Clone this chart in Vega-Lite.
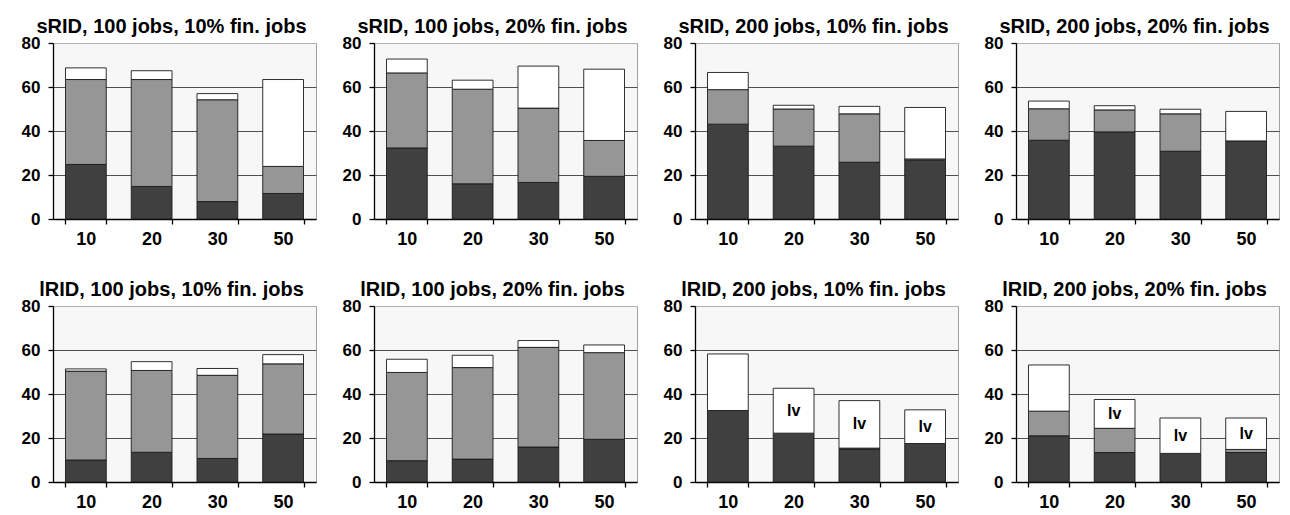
{
  "$schema": "https://vega.github.io/schema/vega-lite/v6.json",
  "background": "white",
  "padding": {"left": 20, "top": 16, "right": 2, "bottom": 2},
  "data": {"values": [
    {"panel": "sRID, 100 jobs, 10% fin. jobs", "x": 10, "part": "base", "value": 24.8},
    {"panel": "sRID, 100 jobs, 10% fin. jobs", "x": 10, "part": "mid", "value": 38.6},
    {"panel": "sRID, 100 jobs, 10% fin. jobs", "x": 10, "part": "top", "value": 5.3},
    {"panel": "sRID, 100 jobs, 10% fin. jobs", "x": 20, "part": "base", "value": 14.8},
    {"panel": "sRID, 100 jobs, 10% fin. jobs", "x": 20, "part": "mid", "value": 48.6},
    {"panel": "sRID, 100 jobs, 10% fin. jobs", "x": 20, "part": "top", "value": 4.0},
    {"panel": "sRID, 100 jobs, 10% fin. jobs", "x": 30, "part": "base", "value": 7.9},
    {"panel": "sRID, 100 jobs, 10% fin. jobs", "x": 30, "part": "mid", "value": 46.3},
    {"panel": "sRID, 100 jobs, 10% fin. jobs", "x": 30, "part": "top", "value": 2.8},
    {"panel": "sRID, 100 jobs, 10% fin. jobs", "x": 50, "part": "base", "value": 11.6},
    {"panel": "sRID, 100 jobs, 10% fin. jobs", "x": 50, "part": "mid", "value": 12.3},
    {"panel": "sRID, 100 jobs, 10% fin. jobs", "x": 50, "part": "top", "value": 39.5},

    {"panel": "sRID, 100 jobs, 20% fin. jobs", "x": 10, "part": "base", "value": 32.3},
    {"panel": "sRID, 100 jobs, 20% fin. jobs", "x": 10, "part": "mid", "value": 34.1},
    {"panel": "sRID, 100 jobs, 20% fin. jobs", "x": 10, "part": "top", "value": 6.3},
    {"panel": "sRID, 100 jobs, 20% fin. jobs", "x": 20, "part": "base", "value": 16.0},
    {"panel": "sRID, 100 jobs, 20% fin. jobs", "x": 20, "part": "mid", "value": 43.0},
    {"panel": "sRID, 100 jobs, 20% fin. jobs", "x": 20, "part": "top", "value": 4.1},
    {"panel": "sRID, 100 jobs, 20% fin. jobs", "x": 30, "part": "base", "value": 16.6},
    {"panel": "sRID, 100 jobs, 20% fin. jobs", "x": 30, "part": "mid", "value": 33.8},
    {"panel": "sRID, 100 jobs, 20% fin. jobs", "x": 30, "part": "top", "value": 19.1},
    {"panel": "sRID, 100 jobs, 20% fin. jobs", "x": 50, "part": "base", "value": 19.4},
    {"panel": "sRID, 100 jobs, 20% fin. jobs", "x": 50, "part": "mid", "value": 16.3},
    {"panel": "sRID, 100 jobs, 20% fin. jobs", "x": 50, "part": "top", "value": 32.4},

    {"panel": "sRID, 200 jobs, 10% fin. jobs", "x": 10, "part": "base", "value": 43.1},
    {"panel": "sRID, 200 jobs, 10% fin. jobs", "x": 10, "part": "mid", "value": 15.7},
    {"panel": "sRID, 200 jobs, 10% fin. jobs", "x": 10, "part": "top", "value": 7.8},
    {"panel": "sRID, 200 jobs, 10% fin. jobs", "x": 20, "part": "base", "value": 33.1},
    {"panel": "sRID, 200 jobs, 10% fin. jobs", "x": 20, "part": "mid", "value": 16.9},
    {"panel": "sRID, 200 jobs, 10% fin. jobs", "x": 20, "part": "top", "value": 1.7},
    {"panel": "sRID, 200 jobs, 10% fin. jobs", "x": 30, "part": "base", "value": 25.8},
    {"panel": "sRID, 200 jobs, 10% fin. jobs", "x": 30, "part": "mid", "value": 22.0},
    {"panel": "sRID, 200 jobs, 10% fin. jobs", "x": 30, "part": "top", "value": 3.4},
    {"panel": "sRID, 200 jobs, 10% fin. jobs", "x": 50, "part": "base", "value": 26.7},
    {"panel": "sRID, 200 jobs, 10% fin. jobs", "x": 50, "part": "mid", "value": 0.6},
    {"panel": "sRID, 200 jobs, 10% fin. jobs", "x": 50, "part": "top", "value": 23.4},

    {"panel": "sRID, 200 jobs, 20% fin. jobs", "x": 10, "part": "base", "value": 35.8},
    {"panel": "sRID, 200 jobs, 20% fin. jobs", "x": 10, "part": "mid", "value": 14.3},
    {"panel": "sRID, 200 jobs, 20% fin. jobs", "x": 10, "part": "top", "value": 3.5},
    {"panel": "sRID, 200 jobs, 20% fin. jobs", "x": 20, "part": "base", "value": 39.6},
    {"panel": "sRID, 200 jobs, 20% fin. jobs", "x": 20, "part": "mid", "value": 10.0},
    {"panel": "sRID, 200 jobs, 20% fin. jobs", "x": 20, "part": "top", "value": 1.9},
    {"panel": "sRID, 200 jobs, 20% fin. jobs", "x": 30, "part": "base", "value": 30.8},
    {"panel": "sRID, 200 jobs, 20% fin. jobs", "x": 30, "part": "mid", "value": 17.0},
    {"panel": "sRID, 200 jobs, 20% fin. jobs", "x": 30, "part": "top", "value": 2.1},
    {"panel": "sRID, 200 jobs, 20% fin. jobs", "x": 50, "part": "base", "value": 35.5},
    {"panel": "sRID, 200 jobs, 20% fin. jobs", "x": 50, "part": "top", "value": 13.4},

    {"panel": "lRID, 100 jobs, 10% fin. jobs", "x": 10, "part": "base", "value": 10.0},
    {"panel": "lRID, 100 jobs, 10% fin. jobs", "x": 10, "part": "mid", "value": 40.4},
    {"panel": "lRID, 100 jobs, 10% fin. jobs", "x": 10, "part": "top", "value": 1.0},
    {"panel": "lRID, 100 jobs, 10% fin. jobs", "x": 20, "part": "base", "value": 13.5},
    {"panel": "lRID, 100 jobs, 10% fin. jobs", "x": 20, "part": "mid", "value": 37.2},
    {"panel": "lRID, 100 jobs, 10% fin. jobs", "x": 20, "part": "top", "value": 4.0},
    {"panel": "lRID, 100 jobs, 10% fin. jobs", "x": 30, "part": "base", "value": 10.7},
    {"panel": "lRID, 100 jobs, 10% fin. jobs", "x": 30, "part": "mid", "value": 37.8},
    {"panel": "lRID, 100 jobs, 10% fin. jobs", "x": 30, "part": "top", "value": 3.1},
    {"panel": "lRID, 100 jobs, 10% fin. jobs", "x": 50, "part": "base", "value": 21.8},
    {"panel": "lRID, 100 jobs, 10% fin. jobs", "x": 50, "part": "mid", "value": 31.9},
    {"panel": "lRID, 100 jobs, 10% fin. jobs", "x": 50, "part": "top", "value": 4.2},

    {"panel": "lRID, 100 jobs, 20% fin. jobs", "x": 10, "part": "base", "value": 9.7},
    {"panel": "lRID, 100 jobs, 20% fin. jobs", "x": 10, "part": "mid", "value": 40.1},
    {"panel": "lRID, 100 jobs, 20% fin. jobs", "x": 10, "part": "top", "value": 6.0},
    {"panel": "lRID, 100 jobs, 20% fin. jobs", "x": 20, "part": "base", "value": 10.4},
    {"panel": "lRID, 100 jobs, 20% fin. jobs", "x": 20, "part": "mid", "value": 41.6},
    {"panel": "lRID, 100 jobs, 20% fin. jobs", "x": 20, "part": "top", "value": 5.6},
    {"panel": "lRID, 100 jobs, 20% fin. jobs", "x": 30, "part": "base", "value": 15.9},
    {"panel": "lRID, 100 jobs, 20% fin. jobs", "x": 30, "part": "mid", "value": 45.3},
    {"panel": "lRID, 100 jobs, 20% fin. jobs", "x": 30, "part": "top", "value": 3.1},
    {"panel": "lRID, 100 jobs, 20% fin. jobs", "x": 50, "part": "base", "value": 19.4},
    {"panel": "lRID, 100 jobs, 20% fin. jobs", "x": 50, "part": "mid", "value": 39.4},
    {"panel": "lRID, 100 jobs, 20% fin. jobs", "x": 50, "part": "top", "value": 3.5},

    {"panel": "lRID, 200 jobs, 10% fin. jobs", "x": 10, "part": "base", "value": 32.5},
    {"panel": "lRID, 200 jobs, 10% fin. jobs", "x": 10, "part": "top", "value": 25.7},
    {"panel": "lRID, 200 jobs, 10% fin. jobs", "x": 20, "part": "base", "value": 22.2},
    {"panel": "lRID, 200 jobs, 10% fin. jobs", "x": 20, "part": "top", "value": 20.4, "label": "lv"},
    {"panel": "lRID, 200 jobs, 10% fin. jobs", "x": 30, "part": "base", "value": 14.8},
    {"panel": "lRID, 200 jobs, 10% fin. jobs", "x": 30, "part": "mid", "value": 0.6},
    {"panel": "lRID, 200 jobs, 10% fin. jobs", "x": 30, "part": "top", "value": 21.6, "label": "lv"},
    {"panel": "lRID, 200 jobs, 10% fin. jobs", "x": 50, "part": "base", "value": 17.5},
    {"panel": "lRID, 200 jobs, 10% fin. jobs", "x": 50, "part": "top", "value": 15.3, "label": "lv"},

    {"panel": "lRID, 200 jobs, 20% fin. jobs", "x": 10, "part": "base", "value": 21.0},
    {"panel": "lRID, 200 jobs, 20% fin. jobs", "x": 10, "part": "mid", "value": 11.2},
    {"panel": "lRID, 200 jobs, 20% fin. jobs", "x": 10, "part": "top", "value": 21.0},
    {"panel": "lRID, 200 jobs, 20% fin. jobs", "x": 20, "part": "base", "value": 13.4},
    {"panel": "lRID, 200 jobs, 20% fin. jobs", "x": 20, "part": "mid", "value": 11.0},
    {"panel": "lRID, 200 jobs, 20% fin. jobs", "x": 20, "part": "top", "value": 13.1, "label": "lv"},
    {"panel": "lRID, 200 jobs, 20% fin. jobs", "x": 30, "part": "base", "value": 13.0},
    {"panel": "lRID, 200 jobs, 20% fin. jobs", "x": 30, "part": "top", "value": 16.1, "label": "lv"},
    {"panel": "lRID, 200 jobs, 20% fin. jobs", "x": 50, "part": "base", "value": 13.4},
    {"panel": "lRID, 200 jobs, 20% fin. jobs", "x": 50, "part": "mid", "value": 1.4},
    {"panel": "lRID, 200 jobs, 20% fin. jobs", "x": 50, "part": "top", "value": 14.3, "label": "lv"}
  ]},
  "transform": [
    {"stack": "value", "groupby": ["panel", "x"], "sort": [{"field": "part", "order": "ascending"}], "as": ["y0", "y1"]},
    {"calculate": "(datum.y0 + datum.y1) / 2", "as": "ymid"}
  ],
  "spacing": 30,
  "vconcat": [
    {"hconcat": [
      {"width": 263, "height": 176, "title": "sRID, 100 jobs, 10% fin. jobs",
       "transform": [{"filter": "datum.panel === 'sRID, 100 jobs, 10% fin. jobs'"}],
       "layer": [
         {"mark": {"type": "bar", "stroke": "#1a1a1a", "strokeWidth": 0.9},
          "encoding": {
            "x": {"field": "x", "type": "ordinal", "scale": {"paddingInner": 0.38, "paddingOuter": 0.19}, "axis": {"title": null}},
            "y": {"field": "y0", "type": "quantitative", "scale": {"domain": [0, 80]}, "axis": {"title": null, "values": [0, 20, 40, 60, 80], "gridColor": {"condition": {"test": "datum.value === 80", "value": "#b0b0b0"}, "value": "#505050"}}},
            "y2": {"field": "y1"},
            "color": {"field": "part", "type": "nominal", "scale": {"domain": ["base", "mid", "top"], "range": ["#404040", "#969696", "#ffffff"]}, "legend": null}}},
         {"transform": [{"filter": "datum.label"}],
          "mark": {"type": "text", "fontSize": 16, "fontWeight": "bold", "color": "#000000"},
          "encoding": {"x": {"field": "x", "type": "ordinal"}, "y": {"field": "ymid", "type": "quantitative"}, "text": {"field": "label"}}}
       ]},
      {"width": 263, "height": 176, "title": "sRID, 100 jobs, 20% fin. jobs",
       "transform": [{"filter": "datum.panel === 'sRID, 100 jobs, 20% fin. jobs'"}],
       "layer": [
         {"mark": {"type": "bar", "stroke": "#1a1a1a", "strokeWidth": 0.9},
          "encoding": {
            "x": {"field": "x", "type": "ordinal", "scale": {"paddingInner": 0.38, "paddingOuter": 0.19}, "axis": {"title": null}},
            "y": {"field": "y0", "type": "quantitative", "scale": {"domain": [0, 80]}, "axis": {"title": null, "values": [0, 20, 40, 60, 80], "gridColor": {"condition": {"test": "datum.value === 80", "value": "#b0b0b0"}, "value": "#505050"}}},
            "y2": {"field": "y1"},
            "color": {"field": "part", "type": "nominal", "scale": {"domain": ["base", "mid", "top"], "range": ["#404040", "#969696", "#ffffff"]}, "legend": null}}},
         {"transform": [{"filter": "datum.label"}],
          "mark": {"type": "text", "fontSize": 16, "fontWeight": "bold", "color": "#000000"},
          "encoding": {"x": {"field": "x", "type": "ordinal"}, "y": {"field": "ymid", "type": "quantitative"}, "text": {"field": "label"}}}
       ]},
      {"width": 263, "height": 176, "title": "sRID, 200 jobs, 10% fin. jobs",
       "transform": [{"filter": "datum.panel === 'sRID, 200 jobs, 10% fin. jobs'"}],
       "layer": [
         {"mark": {"type": "bar", "stroke": "#1a1a1a", "strokeWidth": 0.9},
          "encoding": {
            "x": {"field": "x", "type": "ordinal", "scale": {"paddingInner": 0.38, "paddingOuter": 0.19}, "axis": {"title": null}},
            "y": {"field": "y0", "type": "quantitative", "scale": {"domain": [0, 80]}, "axis": {"title": null, "values": [0, 20, 40, 60, 80], "gridColor": {"condition": {"test": "datum.value === 80", "value": "#b0b0b0"}, "value": "#505050"}}},
            "y2": {"field": "y1"},
            "color": {"field": "part", "type": "nominal", "scale": {"domain": ["base", "mid", "top"], "range": ["#404040", "#969696", "#ffffff"]}, "legend": null}}},
         {"transform": [{"filter": "datum.label"}],
          "mark": {"type": "text", "fontSize": 16, "fontWeight": "bold", "color": "#000000"},
          "encoding": {"x": {"field": "x", "type": "ordinal"}, "y": {"field": "ymid", "type": "quantitative"}, "text": {"field": "label"}}}
       ]},
      {"width": 263, "height": 176, "title": "sRID, 200 jobs, 20% fin. jobs",
       "transform": [{"filter": "datum.panel === 'sRID, 200 jobs, 20% fin. jobs'"}],
       "layer": [
         {"mark": {"type": "bar", "stroke": "#1a1a1a", "strokeWidth": 0.9},
          "encoding": {
            "x": {"field": "x", "type": "ordinal", "scale": {"paddingInner": 0.38, "paddingOuter": 0.19}, "axis": {"title": null}},
            "y": {"field": "y0", "type": "quantitative", "scale": {"domain": [0, 80]}, "axis": {"title": null, "values": [0, 20, 40, 60, 80], "gridColor": {"condition": {"test": "datum.value === 80", "value": "#b0b0b0"}, "value": "#505050"}}},
            "y2": {"field": "y1"},
            "color": {"field": "part", "type": "nominal", "scale": {"domain": ["base", "mid", "top"], "range": ["#404040", "#969696", "#ffffff"]}, "legend": null}}},
         {"transform": [{"filter": "datum.label"}],
          "mark": {"type": "text", "fontSize": 16, "fontWeight": "bold", "color": "#000000"},
          "encoding": {"x": {"field": "x", "type": "ordinal"}, "y": {"field": "ymid", "type": "quantitative"}, "text": {"field": "label"}}}
       ]}
    ]},
    {"hconcat": [
      {"width": 263, "height": 176, "title": "lRID, 100 jobs, 10% fin. jobs",
       "transform": [{"filter": "datum.panel === 'lRID, 100 jobs, 10% fin. jobs'"}],
       "layer": [
         {"mark": {"type": "bar", "stroke": "#1a1a1a", "strokeWidth": 0.9},
          "encoding": {
            "x": {"field": "x", "type": "ordinal", "scale": {"paddingInner": 0.38, "paddingOuter": 0.19}, "axis": {"title": null}},
            "y": {"field": "y0", "type": "quantitative", "scale": {"domain": [0, 80]}, "axis": {"title": null, "values": [0, 20, 40, 60, 80], "gridColor": {"condition": {"test": "datum.value === 80", "value": "#b0b0b0"}, "value": "#505050"}}},
            "y2": {"field": "y1"},
            "color": {"field": "part", "type": "nominal", "scale": {"domain": ["base", "mid", "top"], "range": ["#404040", "#969696", "#ffffff"]}, "legend": null}}},
         {"transform": [{"filter": "datum.label"}],
          "mark": {"type": "text", "fontSize": 16, "fontWeight": "bold", "color": "#000000"},
          "encoding": {"x": {"field": "x", "type": "ordinal"}, "y": {"field": "ymid", "type": "quantitative"}, "text": {"field": "label"}}}
       ]},
      {"width": 263, "height": 176, "title": "lRID, 100 jobs, 20% fin. jobs",
       "transform": [{"filter": "datum.panel === 'lRID, 100 jobs, 20% fin. jobs'"}],
       "layer": [
         {"mark": {"type": "bar", "stroke": "#1a1a1a", "strokeWidth": 0.9},
          "encoding": {
            "x": {"field": "x", "type": "ordinal", "scale": {"paddingInner": 0.38, "paddingOuter": 0.19}, "axis": {"title": null}},
            "y": {"field": "y0", "type": "quantitative", "scale": {"domain": [0, 80]}, "axis": {"title": null, "values": [0, 20, 40, 60, 80], "gridColor": {"condition": {"test": "datum.value === 80", "value": "#b0b0b0"}, "value": "#505050"}}},
            "y2": {"field": "y1"},
            "color": {"field": "part", "type": "nominal", "scale": {"domain": ["base", "mid", "top"], "range": ["#404040", "#969696", "#ffffff"]}, "legend": null}}},
         {"transform": [{"filter": "datum.label"}],
          "mark": {"type": "text", "fontSize": 16, "fontWeight": "bold", "color": "#000000"},
          "encoding": {"x": {"field": "x", "type": "ordinal"}, "y": {"field": "ymid", "type": "quantitative"}, "text": {"field": "label"}}}
       ]},
      {"width": 263, "height": 176, "title": "lRID, 200 jobs, 10% fin. jobs",
       "transform": [{"filter": "datum.panel === 'lRID, 200 jobs, 10% fin. jobs'"}],
       "layer": [
         {"mark": {"type": "bar", "stroke": "#1a1a1a", "strokeWidth": 0.9},
          "encoding": {
            "x": {"field": "x", "type": "ordinal", "scale": {"paddingInner": 0.38, "paddingOuter": 0.19}, "axis": {"title": null}},
            "y": {"field": "y0", "type": "quantitative", "scale": {"domain": [0, 80]}, "axis": {"title": null, "values": [0, 20, 40, 60, 80], "gridColor": {"condition": {"test": "datum.value === 80", "value": "#b0b0b0"}, "value": "#505050"}}},
            "y2": {"field": "y1"},
            "color": {"field": "part", "type": "nominal", "scale": {"domain": ["base", "mid", "top"], "range": ["#404040", "#969696", "#ffffff"]}, "legend": null}}},
         {"transform": [{"filter": "datum.label"}],
          "mark": {"type": "text", "fontSize": 16, "fontWeight": "bold", "color": "#000000"},
          "encoding": {"x": {"field": "x", "type": "ordinal"}, "y": {"field": "ymid", "type": "quantitative"}, "text": {"field": "label"}}}
       ]},
      {"width": 263, "height": 176, "title": "lRID, 200 jobs, 20% fin. jobs",
       "transform": [{"filter": "datum.panel === 'lRID, 200 jobs, 20% fin. jobs'"}],
       "layer": [
         {"mark": {"type": "bar", "stroke": "#1a1a1a", "strokeWidth": 0.9},
          "encoding": {
            "x": {"field": "x", "type": "ordinal", "scale": {"paddingInner": 0.38, "paddingOuter": 0.19}, "axis": {"title": null}},
            "y": {"field": "y0", "type": "quantitative", "scale": {"domain": [0, 80]}, "axis": {"title": null, "values": [0, 20, 40, 60, 80], "gridColor": {"condition": {"test": "datum.value === 80", "value": "#b0b0b0"}, "value": "#505050"}}},
            "y2": {"field": "y1"},
            "color": {"field": "part", "type": "nominal", "scale": {"domain": ["base", "mid", "top"], "range": ["#404040", "#969696", "#ffffff"]}, "legend": null}}},
         {"transform": [{"filter": "datum.label"}],
          "mark": {"type": "text", "fontSize": 16, "fontWeight": "bold", "color": "#000000"},
          "encoding": {"x": {"field": "x", "type": "ordinal"}, "y": {"field": "ymid", "type": "quantitative"}, "text": {"field": "label"}}}
       ]}
    ]}
  ],
  "config": {
    "font": "Liberation Sans",
    "concat": {"spacing": 24},
    "view": {"fill": "#f7f7f7", "stroke": "#a0a0a0", "strokeWidth": 1},
    "title": {"fontSize": 20, "fontWeight": "bold", "color": "#000000", "anchor": "middle", "offset": -3, "dx": -13, "font": "Liberation Sans"},
    "axis": {"domainColor": "#000000", "domainWidth": 1.3, "tickColor": "#000000", "tickSize": 5, "tickWidth": 1.3, "labelColor": "#000000", "labelFontWeight": "bold", "labelFont": "Liberation Sans"},
    "axisX": {"grid": false, "tickBand": "extent", "labelAngle": 0, "labelFontSize": 18, "labelPadding": 6},
    "axisY": {"grid": true, "gridWidth": 1, "labelFontSize": 17, "labelPadding": 8}
  }
}
